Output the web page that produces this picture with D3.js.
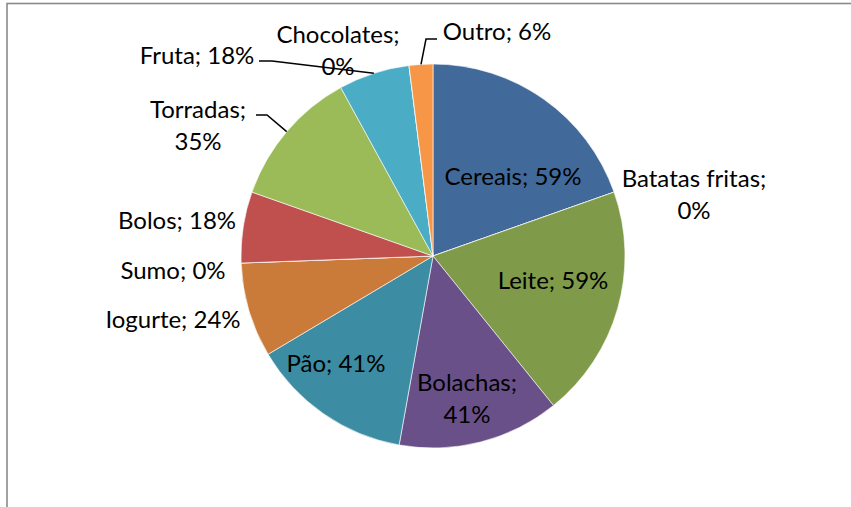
<!DOCTYPE html>
<html><head><meta charset="utf-8">
<script src="https://cdn.jsdelivr.net/npm/d3@7"></script>
<style>body{margin:0;background:#fff}svg{display:block}text{font-family:Lato,"Open Sans",sans-serif;font-size:24px;fill:#000}</style>
</head><body>
<script>
const categories = ["Cereais","Batatas fritas","Leite","Bolachas","Pão","Iogurte","Sumo","Bolos","Torradas","Fruta","Chocolates","Outro"];
const values = [59,0,59,41,41,24,0,18,35,18,0,6];
const colors = ["#416a9b","#4f81bd","#7f9a48","#6a5088","#3c8ca4","#cb7b39","#c0504d","#c0504d","#9bbb59","#4bacc6","#8064a2","#f79646"];
// label layout: lines of text and offset of label centre relative to pie centre
const labelLines = [["Cereais; 59%"],["Batatas fritas;","0%"],["Leite; 59%"],["Bolachas;","41%"],["Pão; 41%"],["Iogurte; 24%"],["Sumo; 0%"],["Bolos; 18%"],["Torradas;","35%"],["Fruta; 18%"],["Chocolates;","0%"],["Outro; 6%"]];
const labelOffsets = [[80,-79],[261,-61],[120,25],[34,143],[-97,108],[-260,64],[-260,15],[-256,-35],[-235,-130],[-236,-200],[-95,-205],[64,-224]];
// leader-line label-side points (relative to centre)
const leaderPts = {8:[[-177,-141],[-166,-141]], 9:[[-174,-195],[-161,-195]], 11:[[4,-217],[-7,-217]]};

const W=851,H=507, cx=433, cy=256, R=192;
const svg=d3.select("body").append("svg").attr("width",W).attr("height",H);
svg.append("rect").attr("x",7).attr("y",3.5).attr("width",1000).attr("height",1000)
  .attr("fill","none").attr("stroke","#8a8a8a").attr("stroke-width",1.6);
const g=svg.append("g").attr("transform",`translate(${cx},${cy})`);
const pie=d3.pie().sort(null).value(d=>d)(values);
const arc=d3.arc().innerRadius(0).outerRadius(R);
g.selectAll("path.s").data(pie).join("path").attr("class","s")
  .attr("d",arc).attr("fill",(d,i)=>colors[i]).attr("stroke","#fff").attr("stroke-width",0.6);
// leader lines
Object.keys(leaderPts).forEach(k=>{
  const d=pie[k]; const a=(d.startAngle+d.endAngle)/2;
  const pts=leaderPts[k].concat([[R*Math.sin(a),-R*Math.cos(a)]]);
  g.append("path").attr("d",d3.line()(pts)).attr("fill","none").attr("stroke","#000").attr("stroke-width",1.5);
});
const lh=32;
labelLines.forEach((lines,i)=>{
  const [ox,oy]=labelOffsets[i];
  const t=g.append("text").attr("text-anchor","middle");
  lines.forEach((s,j)=>{
    t.append("tspan").attr("x",ox).attr("y",oy+(j-(lines.length-1)/2)*lh).attr("dy","0.35em").text(s);
  });
});
</script>
</body></html>
